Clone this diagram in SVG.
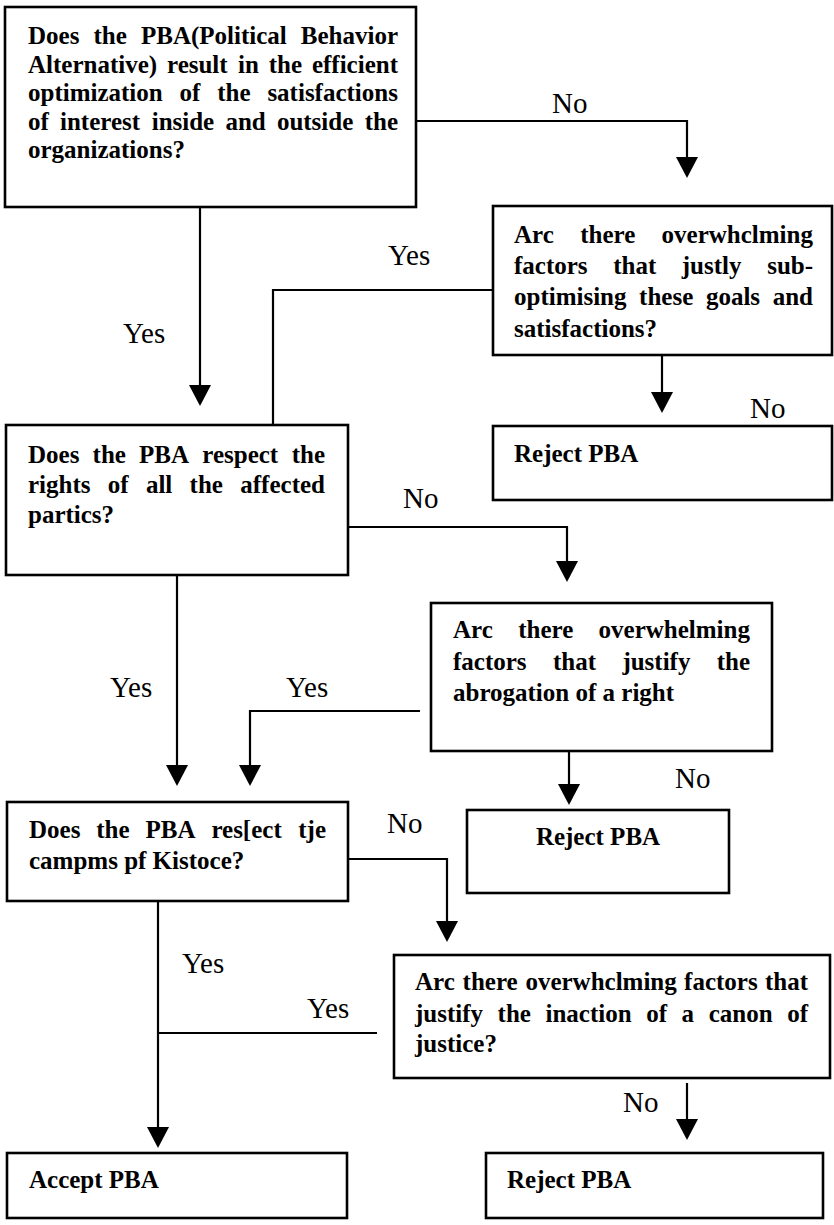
<svg xmlns="http://www.w3.org/2000/svg" width="834" height="1225" viewBox="0 0 834 1225">
  <style>
    .box { fill: #ffffff; stroke: #000000; stroke-width: 2.6; }
    .q { font-family: "Liberation Serif", "Times New Roman", serif; font-size: 25px; font-weight: bold; fill: #000000; }
    .lbl { font-family: "Liberation Serif", "Times New Roman", serif; font-size: 29px; fill: #000000; }
    .wire { fill: none; stroke: #000000; stroke-width: 2.2; }
    .arr { marker-end: url(#head); }
  </style>
  <defs>
    <marker id="head" markerUnits="userSpaceOnUse" markerWidth="22" markerHeight="22" viewBox="0 0 22 22" refX="17" refY="11" orient="auto">
      <path d="M0,0 L21,11 L0,22 Z" fill="#000000"/>
    </marker>
  </defs>
  <rect x="0" y="0" width="834" height="1225" fill="#ffffff"/>

  <!-- connectors -->
  <g id="connectors">
    <path class="wire arr" d="M200,207 V402"/>
    <path class="wire arr" d="M416,121 H687 V174"/>
    <path class="wire" d="M493,290 H273 V425"/>
    <path class="wire arr" d="M662,355 V409"/>
    <path class="wire arr" d="M177,554 V782"/>
    <path class="wire arr" d="M348,527 H567 V578"/>
    <path class="wire arr" d="M420,711 H250 V782"/>
    <path class="wire arr" d="M569,751 V801"/>
    <path class="wire arr" d="M348,859 H447 V938"/>
    <path class="wire arr" d="M158,901 V1144"/>
    <path class="wire" d="M377,1033 H158"/>
    <path class="wire arr" d="M687,1083 V1136"/>
  </g>

  <!-- branch labels -->
  <g id="labels" class="lbl">
    <text x="552" y="113">No</text>
    <text x="123" y="343">Yes</text>
    <text x="388" y="265">Yes</text>
    <text x="750" y="418">No</text>
    <text x="403" y="508">No</text>
    <text x="110" y="697">Yes</text>
    <text x="286" y="697">Yes</text>
    <text x="675" y="788">No</text>
    <text x="387" y="833">No</text>
    <text x="182" y="973">Yes</text>
    <text x="307" y="1018">Yes</text>
    <text x="623" y="1112">No</text>
  </g>

  <!-- decision: efficiency -->
  <g id="q-efficiency">
    <rect class="box" x="5" y="7" width="411" height="200"/>
    <text class="q">
      <tspan x="28" y="44">Does</tspan><tspan x="93.5">the</tspan><tspan x="141">PBA(Political</tspan><tspan x="300.8">Behavior</tspan>
      <tspan x="28" y="73">Alternative)</tspan><tspan x="167">result</tspan><tspan x="238">in</tspan><tspan x="268.8">the</tspan><tspan x="311.9">efficient</tspan>
      <tspan x="28" y="101">optimization</tspan><tspan x="179.6">of</tspan><tspan x="217.3">the</tspan><tspan x="267.4">satisfactions</tspan>
      <tspan x="28" y="130">of</tspan><tspan x="60">interest</tspan><tspan x="151.7">inside</tspan><tspan x="225.4">and</tspan><tspan x="276.9">outside</tspan><tspan x="364.7">the</tspan>
      <tspan x="28" y="158">organizations?</tspan>
    </text>
  </g>

  <!-- decision: sub-optimising factors -->
  <g id="q-suboptimise">
    <rect class="box" x="493" y="206" width="339" height="149"/>
    <text class="q">
      <tspan x="514" y="243">Arc</tspan><tspan x="580.2">there</tspan><tspan x="661.6">overwhclming</tspan>
      <tspan x="514" y="274">factors</tspan><tspan x="613.2">that</tspan><tspan x="681.8">justly</tspan><tspan x="767.2">sub-</tspan>
      <tspan x="514" y="305">optimising</tspan><tspan x="639.1">these</tspan><tspan x="705.9">goals</tspan><tspan x="772.7">and</tspan>
      <tspan x="514" y="337">satisfactions?</tspan>
    </text>
  </g>

  <!-- outcome: reject (1) -->
  <g id="reject-1">
    <rect class="box" x="493" y="426" width="339" height="74"/>
    <text class="q" x="514" y="462">Reject PBA</text>
  </g>

  <!-- decision: rights -->
  <g id="q-rights">
    <rect class="box" x="6" y="425" width="342" height="150"/>
    <text class="q">
      <tspan x="28" y="463">Does</tspan><tspan x="92.6">the</tspan><tspan x="139.1">PBA</tspan><tspan x="202.3">respect</tspan><tspan x="291.7">the</tspan>
      <tspan x="28" y="493">rights</tspan><tspan x="107.8">of</tspan><tspan x="145.9">all</tspan><tspan x="189.6">the</tspan><tspan x="240.3">affected</tspan>
      <tspan x="28" y="523">partics?</tspan>
    </text>
  </g>

  <!-- decision: abrogation of a right -->
  <g id="q-abrogation">
    <rect class="box" x="431" y="603" width="341" height="148"/>
    <text class="q">
      <tspan x="453" y="638">Arc</tspan><tspan x="518.2">there</tspan><tspan x="598.6">overwhelming</tspan>
      <tspan x="453" y="670">factors</tspan><tspan x="553">that</tspan><tspan x="622.4">justify</tspan><tspan x="716.7">the</tspan>
      <tspan x="453" y="701">abrogation of a right</tspan>
    </text>
  </g>

  <!-- decision: canons of justice -->
  <g id="q-justice">
    <rect class="box" x="7" y="802" width="341" height="99"/>
    <text class="q">
      <tspan x="29" y="838">Does</tspan><tspan x="96.3">the</tspan><tspan x="145.5">PBA</tspan><tspan x="211.4">res[ect</tspan><tspan x="298.3">tje</tspan>
      <tspan x="29" y="869">campms pf Kistoce?</tspan>
    </text>
  </g>

  <!-- outcome: reject (2) -->
  <g id="reject-2">
    <rect class="box" x="467" y="810" width="262" height="83"/>
    <text class="q" x="598" y="845" text-anchor="middle">Reject PBA</text>
  </g>

  <!-- decision: inaction of a canon -->
  <g id="q-inaction">
    <rect class="box" x="394" y="955" width="436" height="123"/>
    <text class="q">
      <tspan x="415" y="990">Arc</tspan><tspan x="462.6">there</tspan><tspan x="525.4">overwhclming</tspan><tspan x="684.1">factors</tspan><tspan x="765">that</tspan>
      <tspan x="415" y="1022">justify</tspan><tspan x="497.6">the</tspan><tspan x="545.5">inaction</tspan><tspan x="646.2">of</tspan><tspan x="681.6">a</tspan><tspan x="708.7">canon</tspan><tspan x="787.2">of</tspan>
      <tspan x="415" y="1052">justice?</tspan>
    </text>
  </g>

  <!-- outcome: accept -->
  <g id="accept">
    <rect class="box" x="7" y="1153" width="340" height="65"/>
    <text class="q" x="29" y="1188">Accept PBA</text>
  </g>

  <!-- outcome: reject (3) -->
  <g id="reject-3">
    <rect class="box" x="486" y="1153" width="337" height="65"/>
    <text class="q" x="507" y="1188">Reject PBA</text>
  </g>
</svg>
